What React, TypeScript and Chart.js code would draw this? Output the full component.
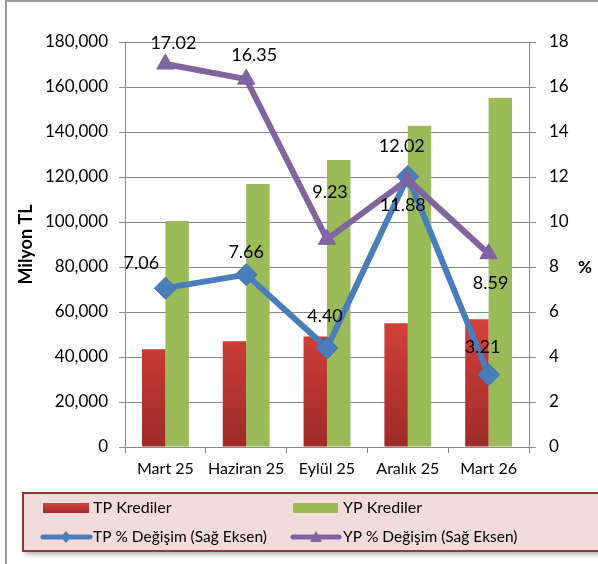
import React, { useEffect, useRef } from 'react';
import { Chart, registerables } from 'chart.js';
Chart.register(...registerables);

const categories = ['Mart 25', 'Haziran 25', 'Eylül 25', 'Aralık 25', 'Mart 26'];
const tpKrediler = [43500, 47000, 49100, 55000, 56800];
const ypKrediler = [100400, 116900, 127600, 142800, 155100];
const tpDegisim = [7.06, 7.66, 4.4, 12.02, 3.21];
const ypDegisim = [17.02, 16.35, 9.23, 11.88, 8.59];
const seriesNames = ['TP Krediler', 'YP Krediler', 'TP % Değişim (Sağ Eksen)', 'YP % Değişim (Sağ Eksen)'];
const leftAxisMax = 180000;
const leftAxisStep = 20000;
const rightAxisMax = 18;
const rightAxisStep = 2;
const leftAxisTitle = 'Milyon TL';
const rightAxisTitle = '%';

// label placement (style): [dx, dy] from each point
const tpLabelOffsets = [[-24, -25], [0, -22], [-2, -32], [-6, -30], [-6, -28]];
const ypLabelOffsets = [[8, -21], [8, -24], [3, -47], [-5, 25], [2, 29]];

const FONT = 'Lato';
const GRID = '#8a8a8a';
const RED_TOP = '#da423d';
const RED_BOTTOM = '#9c2b29';
const GREEN = '#9bbb59';
const BLUE = '#4a7ebb';
const PURPLE = '#7f64a1';

function redGradient(ctx: CanvasRenderingContext2D, top: number, bottom: number) {
  const g = ctx.createLinearGradient(0, top, 0, bottom);
  g.addColorStop(0, RED_TOP);
  g.addColorStop(1, RED_BOTTOM);
  return g;
}

const framePlugin = {
  id: 'frame',
  beforeDraw(chart: any) {
    const { ctx, width, height } = chart;
    ctx.save();
    ctx.fillStyle = '#ffffff';
    ctx.fillRect(0, 0, width, height);
    ctx.strokeStyle = '#9a9a9a';
    ctx.lineWidth = 2;
    ctx.strokeRect(6, 1, width + 20, height + 20);
    ctx.restore();
  },
};

const labelsPlugin = {
  id: 'pointLabels',
  afterDatasetsDraw(chart: any) {
    const { ctx } = chart;
    ctx.save();
    ctx.font = `18px ${FONT}`;
    ctx.fillStyle = '#000000';
    ctx.textAlign = 'center';
    ctx.textBaseline = 'middle';
    const sets = [
      { idx: 2, vals: tpDegisim, offs: tpLabelOffsets },
      { idx: 3, vals: ypDegisim, offs: ypLabelOffsets },
    ];
    sets.forEach(({ idx, vals, offs }) => {
      const meta = chart.getDatasetMeta(idx);
      meta.data.forEach((pt: any, i: number) => {
        ctx.fillText(vals[i].toFixed(2), pt.x + offs[i][0], pt.y + offs[i][1]);
      });
    });
    ctx.font = `bold 17px ${FONT}`;
    ctx.fillText(rightAxisTitle, 585, 268);
    ctx.restore();
  },
};

const legendPlugin = {
  id: 'boxLegend',
  afterDraw(chart: any) {
    const { ctx, width } = chart;
    const bx = 23, by = 493, bh = 58;
    ctx.save();
    ctx.shadowColor = 'rgba(0,0,0,0.35)';
    ctx.shadowBlur = 5;
    ctx.shadowOffsetX = 2;
    ctx.shadowOffsetY = 3;
    ctx.fillStyle = '#f2dcdb';
    ctx.fillRect(bx, by, width - bx + 20, bh);
    ctx.shadowColor = 'transparent';
    ctx.strokeStyle = '#953735';
    ctx.lineWidth = 2;
    ctx.strokeRect(bx, by, width - bx + 20, bh);

    const r1 = 508, r2 = 537;
    ctx.fillStyle = redGradient(ctx, r1 - 5, r1 + 5);
    ctx.fillRect(43, r1 - 5, 46, 10);
    ctx.fillStyle = GREEN;
    ctx.fillRect(293, r1 - 5, 45, 10);

    ctx.lineCap = 'round';
    ctx.lineWidth = 5;
    ctx.strokeStyle = BLUE;
    ctx.beginPath(); ctx.moveTo(43, r2); ctx.lineTo(90, r2); ctx.stroke();
    ctx.fillStyle = BLUE;
    ctx.beginPath();
    ctx.moveTo(66, r2 - 6); ctx.lineTo(71, r2); ctx.lineTo(66, r2 + 6); ctx.lineTo(61, r2); ctx.closePath(); ctx.fill();

    ctx.strokeStyle = PURPLE;
    ctx.beginPath(); ctx.moveTo(293, r2); ctx.lineTo(339, r2); ctx.stroke();
    ctx.fillStyle = PURPLE;
    ctx.beginPath();
    ctx.moveTo(316, r2 - 6); ctx.lineTo(322, r2 + 5); ctx.lineTo(310, r2 + 5); ctx.closePath(); ctx.fill();

    ctx.fillStyle = '#000000';
    ctx.font = `16px ${FONT}`;
    ctx.textBaseline = 'middle';
    ctx.textAlign = 'left';
    ctx.fillText(seriesNames[0], 93, r1);
    ctx.fillText(seriesNames[1], 343, r1);
    ctx.font = `15.5px ${FONT}`;
    ctx.fillText(seriesNames[2], 93, r2);
    ctx.fillText(seriesNames[3], 343, r2);
    ctx.restore();
  },
};

export default function App() {
  const ref = useRef<HTMLCanvasElement>(null);
  useEffect(() => {
    if (!ref.current) return;
    const chart = new Chart(ref.current, {
      type: 'bar',
      data: {
        labels: categories,
        datasets: [
          {
            type: 'bar',
            label: seriesNames[0],
            data: tpKrediler,
            yAxisID: 'y',
            order: 2,
            backgroundColor: (c: any) => {
              const area = c.chart.chartArea;
              if (!area) return RED_TOP;
              return redGradient(c.chart.ctx, area.top + (area.bottom - area.top) * 0.65, area.bottom);
            },
            barPercentage: 1,
            categoryPercentage: 0.58,
          },
          {
            type: 'bar',
            label: seriesNames[1],
            data: ypKrediler,
            yAxisID: 'y',
            order: 2,
            backgroundColor: GREEN,
            barPercentage: 1,
            categoryPercentage: 0.58,
          },
          {
            type: 'line',
            label: seriesNames[2],
            data: tpDegisim,
            yAxisID: 'y1',
            order: 1,
            borderColor: BLUE,
            backgroundColor: BLUE,
            borderWidth: 6,
            pointStyle: 'rectRot',
            pointRadius: 11,
            pointBorderWidth: 1,
            pointBorderColor: '#3e6fa8',
            pointBackgroundColor: BLUE,
            tension: 0,
          },
          {
            type: 'line',
            label: seriesNames[3],
            data: ypDegisim,
            yAxisID: 'y1',
            order: 0,
            borderColor: PURPLE,
            backgroundColor: PURPLE,
            borderWidth: 6,
            pointStyle: 'triangle',
            pointRadius: 10,
            pointBorderWidth: 1,
            pointBorderColor: PURPLE,
            pointBackgroundColor: PURPLE,
            tension: 0,
          },
        ],
      },
      options: {
        responsive: false,
        animation: false,
        layout: { padding: { left: 0, right: 0, top: 42, bottom: 77 } },
        plugins: {
          legend: { display: false },
          tooltip: { enabled: false },
        },
        scales: {
          x: {
            grid: { offset: true, drawOnChartArea: false, tickLength: 6, color: GRID },
            border: { color: GRID, width: 1 },
            ticks: {
              color: '#000',
              font: { family: FONT, size: 16 },
              padding: 6,
              maxRotation: 0,
              minRotation: 0,
              autoSkip: false,
            },
            afterFit: (s: any) => { s.height = 40; },
          },
          y: {
            position: 'left',
            min: 0,
            max: leftAxisMax,
            ticks: {
              stepSize: leftAxisStep,
              color: '#000',
              font: { family: FONT, size: 17 },
              padding: 11,
              callback: (v: any) => Number(v).toLocaleString('en-US'),
            },
            grid: { color: GRID, tickLength: 6, lineWidth: 1 },
            border: { color: GRID, width: 1 },
            title: {
              display: true,
              text: leftAxisTitle,
              color: '#000',
              font: { family: FONT, size: 18, weight: 'bold' },
              padding: { top: 15, bottom: 0 },
            },
            afterFit: (s: any) => { s.width = 125; },
          },
          y1: {
            position: 'right',
            min: 0,
            max: rightAxisMax,
            ticks: {
              stepSize: rightAxisStep,
              color: '#000',
              font: { family: FONT, size: 17 },
              padding: 13,
            },
            grid: { drawOnChartArea: false, tickLength: 7, color: GRID },
            border: { color: GRID, width: 1 },
            afterFit: (s: any) => { s.width = 69; },
          },
        },
      },
      plugins: [framePlugin, labelsPlugin, legendPlugin],
    } as any);
    return () => chart.destroy();
  }, []);
  return (
    <div style={{ position: 'absolute', left: 0, top: 0, width: 598, height: 564 }}>
      <canvas ref={ref} width={598} height={564} style={{ display: 'block' }} />
    </div>
  );
}
